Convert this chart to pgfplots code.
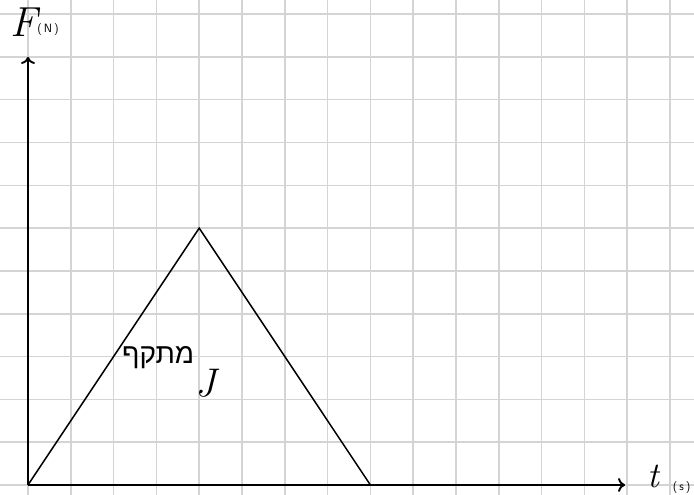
\documentclass[border=0pt]{standalone}
\usepackage{pgfplots}
\pgfplotsset{compat=1.18}
\usepackage{fontspec}
\newfontfamily\hebfont[Script=Hebrew]{Liberation Sans}
\TeXXeTstate=1
\usetikzlibrary{arrows.meta}
\begin{document}
\begin{tikzpicture}[x=1pt,y=1pt]
\begin{axis}[
  scale only axis,
  width=694pt, height=495pt,
  xmin=-0.654, xmax=15.56,
  ymin=-0.234, ymax=11.33,
  hide axis,
  clip=false,
]
% squared paper
\foreach \i in {0,...,15}{
  \edef\tmp{\noexpand\draw[color=black!17, line width=1.5pt] (axis cs:\i,-0.234) -- (axis cs:\i,11.33);}\tmp
}
\foreach \j in {0,...,11}{
  \edef\tmp{\noexpand\draw[color=black!17, line width=1.5pt] (axis cs:-0.654,\j) -- (axis cs:15.56,\j);}\tmp
}
% force on the object: linear rise to the peak, then linear fall
\addplot[black, line width=1.5pt, line join=miter] coordinates {(0,0) (4,6) (8,0)};
% axes with open arrow heads
\draw[black, line width=1.9pt, -{To[length=7pt,width=14pt]}] (axis cs:0,0) -- (axis cs:0,10);
\draw[black, line width=1.9pt, -{To[length=7pt,width=14pt]}] (axis cs:0,0) -- (axis cs:13.95,0);
% axis labels
\node at (axis cs:-0.1,10.8) {\itshape\fontsize{42}{42}\selectfont F};
\node at (axis cs:0.47,10.63) {\sffamily\fontsize{12}{12}\selectfont (\,N\,)};
\node[inner sep=1pt] at (axis cs:14.62,0.2) {\itshape\fontsize{36}{36}\selectfont t};
\node at (axis cs:15.27,-0.07) {\sffamily\fontsize{12}{12}\selectfont (\,s\,)};
% the area under the curve is the impulse
\node at (axis cs:3.04,2.98) {\hebfont\fontsize{28}{28}\selectfont\beginR מתקף\endR};
\node at (axis cs:4.16,2.38) {\itshape\fontsize{40}{40}\selectfont J};
\end{axis}
\pgfresetboundingbox
\path (current axis.south west) rectangle (current axis.north east);
\end{tikzpicture}
\end{document}
